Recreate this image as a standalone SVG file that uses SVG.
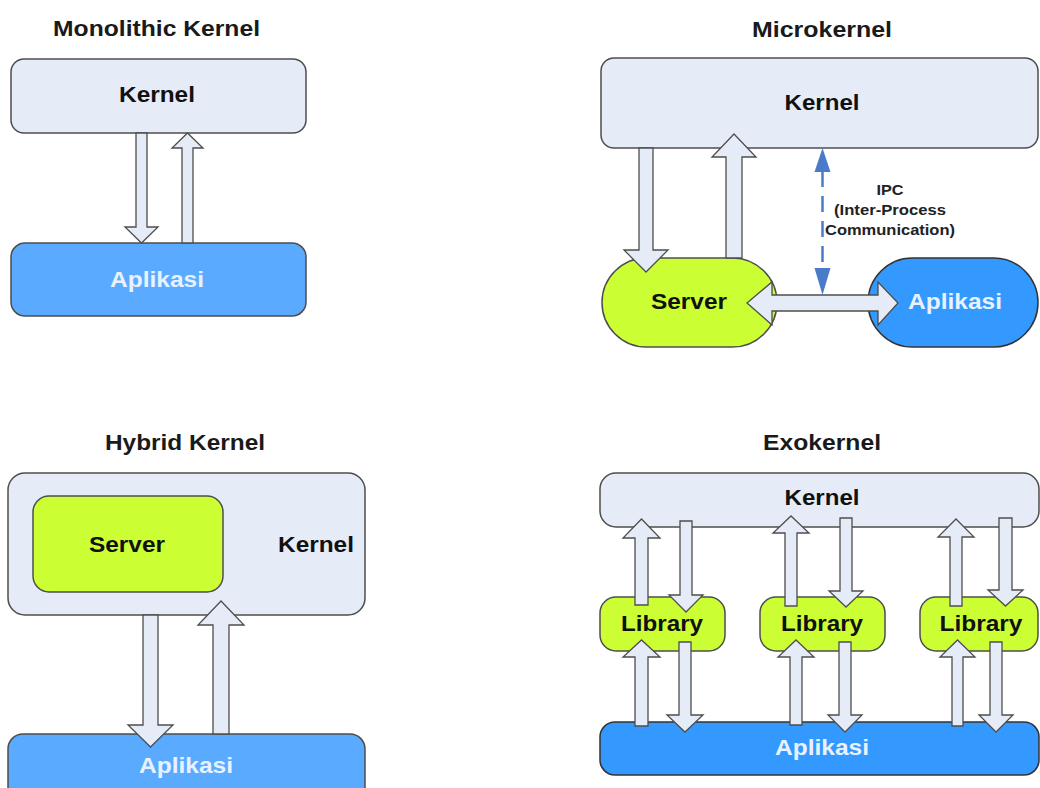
<svg xmlns="http://www.w3.org/2000/svg" width="1040" height="788" viewBox="0 0 1040 788">
<defs>
<style>
text{font-family:"Liberation Sans",Arial,sans-serif;font-weight:bold;text-anchor:middle}
.t{font-size:22px;fill:#1a1a1a}
.lbl{font-size:22px;fill:#111}
.app{font-size:22px;fill:#e8f2ff}
.ipc{font-size:15px;fill:#222}
.kern{fill:#e6ecf7;stroke:#4d4d4d;stroke-width:1.5}
.lime{fill:#ccff33;stroke:#4d4d4d;stroke-width:1.5}
.blueL{fill:#5aabff;stroke:#4d4d4d;stroke-width:1.5}
.blueD{fill:#3399ff;stroke:#333;stroke-width:1.5}
.arr{fill:#e6ecf7;stroke:#4d4d4d;stroke-width:1.3;stroke-linejoin:miter}
.ipcl{stroke:#4a7bc8;stroke-width:2.5;stroke-dasharray:16 9;fill:none}
.ipch{fill:#4a7bc8}
</style>
</defs>
<rect width="1040" height="788" fill="#ffffff"/>

<!-- Titles -->
<g id="titles">
<text class="t" x="156.5" y="36" textLength="207" lengthAdjust="spacingAndGlyphs">Monolithic Kernel</text>
<text class="t" x="822" y="37" textLength="140" lengthAdjust="spacingAndGlyphs">Microkernel</text>
<text class="t" x="185" y="450" textLength="160" lengthAdjust="spacingAndGlyphs">Hybrid Kernel</text>
<text class="t" x="822" y="450" textLength="118" lengthAdjust="spacingAndGlyphs">Exokernel</text>
</g>

<!-- Monolithic -->
<g id="mono-kernel">
<rect class="kern" x="11" y="59" width="295" height="74" rx="13"/>
<text class="lbl" x="157" y="102" textLength="76" lengthAdjust="spacingAndGlyphs">Kernel</text>
</g>
<g id="mono-app">
<rect class="blueL" x="11" y="243" width="295" height="73" rx="14"/>
<text class="app" x="157" y="287" textLength="94" lengthAdjust="spacingAndGlyphs">Aplikasi</text>
</g>

<!-- Microkernel -->
<g id="micro-kernel">
<rect class="kern" x="601" y="58" width="437" height="90" rx="13"/>
<text class="lbl" x="822" y="110" textLength="75" lengthAdjust="spacingAndGlyphs">Kernel</text>
</g>
<g id="micro-server">
<rect class="lime" x="602" y="258" width="175" height="89" rx="44.5"/>
<text class="lbl" x="689" y="309" textLength="76" lengthAdjust="spacingAndGlyphs">Server</text>
</g>
<g id="micro-app">
<rect class="blueD" x="868" y="258" width="170" height="89" rx="44.5"/>
<text class="app" x="955" y="309" textLength="94" lengthAdjust="spacingAndGlyphs">Aplikasi</text>
</g>
<g id="micro-ipc-label">
<text class="ipc" x="890" y="195" textLength="27" lengthAdjust="spacingAndGlyphs">IPC</text>
<text class="ipc" x="890" y="215" textLength="112" lengthAdjust="spacingAndGlyphs">(Inter-Process</text>
<text class="ipc" x="890" y="235" textLength="130" lengthAdjust="spacingAndGlyphs">Communication)</text>
</g>

<!-- Hybrid -->
<g id="hybrid-kernel">
<rect class="kern" x="8" y="473" width="357" height="142" rx="17"/>
<text class="lbl" x="316" y="552" textLength="76" lengthAdjust="spacingAndGlyphs">Kernel</text>
</g>
<g id="hybrid-server">
<rect class="lime" x="33" y="496" width="190" height="96" rx="16"/>
<text class="lbl" x="127" y="552" textLength="76" lengthAdjust="spacingAndGlyphs">Server</text>
</g>
<g id="hybrid-app">
<rect class="blueL" x="8" y="734" width="357" height="80" rx="15"/>
<text class="app" x="186" y="773" textLength="94" lengthAdjust="spacingAndGlyphs">Aplikasi</text>
</g>

<!-- Exokernel -->
<g id="exo-kernel">
<rect class="kern" x="600" y="473" width="439" height="54" rx="16"/>
<text class="lbl" x="822" y="505" textLength="75" lengthAdjust="spacingAndGlyphs">Kernel</text>
</g>
<g id="exo-app">
<rect class="blueD" x="600" y="722" width="439" height="53" rx="15"/>
<text class="app" x="822" y="755" textLength="94" lengthAdjust="spacingAndGlyphs">Aplikasi</text>
</g>
<g id="exo-lib1">
<rect class="lime" x="600" y="597" width="125" height="54" rx="16"/>
<text class="lbl" x="662" y="631" textLength="82" lengthAdjust="spacingAndGlyphs">Library</text>
</g>
<g id="exo-lib2">
<rect class="lime" x="760" y="597" width="125" height="54" rx="16"/>
<text class="lbl" x="822" y="631" textLength="82" lengthAdjust="spacingAndGlyphs">Library</text>
</g>
<g id="exo-lib3">
<rect class="lime" x="920" y="597" width="118" height="54" rx="16"/>
<text class="lbl" x="981" y="631" textLength="83" lengthAdjust="spacingAndGlyphs">Library</text>
</g>

<!-- Connectors -->
<g id="connectors">
<!-- Monolithic -->
<path class="arr" d="M136,133 H147 V227 H158 L141.5,243 L125,227 H136 Z"/>
<path class="arr" d="M182,243 V148 H172 L187.5,133 L203,148 H193 V243 Z"/>
<!-- Microkernel -->
<path class="arr" d="M639,148 H653 V250 H668 L646,272 L624,250 H639 Z"/>
<path class="arr" d="M726,258 V157 H712 L734,134 L756,157 H742 V258 Z"/>
<path class="arr" d="M747,303 L772,282 V295 H878 V282 L898,303 L878,325 V311 H772 V325 Z"/>
<line class="ipcl" x1="822.5" y1="171" x2="822.5" y2="269"/>
<path class="ipch" d="M822.5,148 L830.5,172 H814.5 Z"/>
<path class="ipch" d="M822.5,295 L830.5,268 H814.5 Z"/>
<!-- Hybrid -->
<path class="arr" d="M143,615 H158 V725 H173 L150.5,747 L128,725 H143 Z"/>
<path class="arr" d="M213,734 V625 H198 L221,601 L244,625 H229 V734 Z"/>
<!-- Exokernel lib1 -->
<path class="arr" d="M635,605 V538 H623 L641.5,519 L660,538 H648 V605 Z"/>
<path class="arr" d="M680,521 H692 V595 H703 L686,612 L669,595 H680 Z"/>
<path class="arr" d="M635,726 V657 H623 L641.5,640 L660,657 H648 V726 Z"/>
<path class="arr" d="M679,642 H691 V715 H703 L685,732 L667,715 H679 Z"/>
<!-- Exokernel lib2 -->
<path class="arr" d="M785,606 V533 H773 L791,516 L809,533 H797 V606 Z"/>
<path class="arr" d="M840,518 H852 V591 H863 L846,607 L829,591 H840 Z"/>
<path class="arr" d="M790,725 V657 H778 L796,640 L814,657 H802 V725 Z"/>
<path class="arr" d="M839,642 H851 V715 H862 L845,732 L828,715 H839 Z"/>
<!-- Exokernel lib3 -->
<path class="arr" d="M950,606 V537 H938 L956,519 L974,537 H962 V606 Z"/>
<path class="arr" d="M999,518 H1012 V590 H1023 L1005.5,606 L988,590 H999 Z"/>
<path class="arr" d="M952,726 V657 H940 L957.5,640 L975,657 H963 V726 Z"/>
<path class="arr" d="M990,642 H1002 V715 H1013 L996,732 L979,715 H990 Z"/>
</g>
</svg>
